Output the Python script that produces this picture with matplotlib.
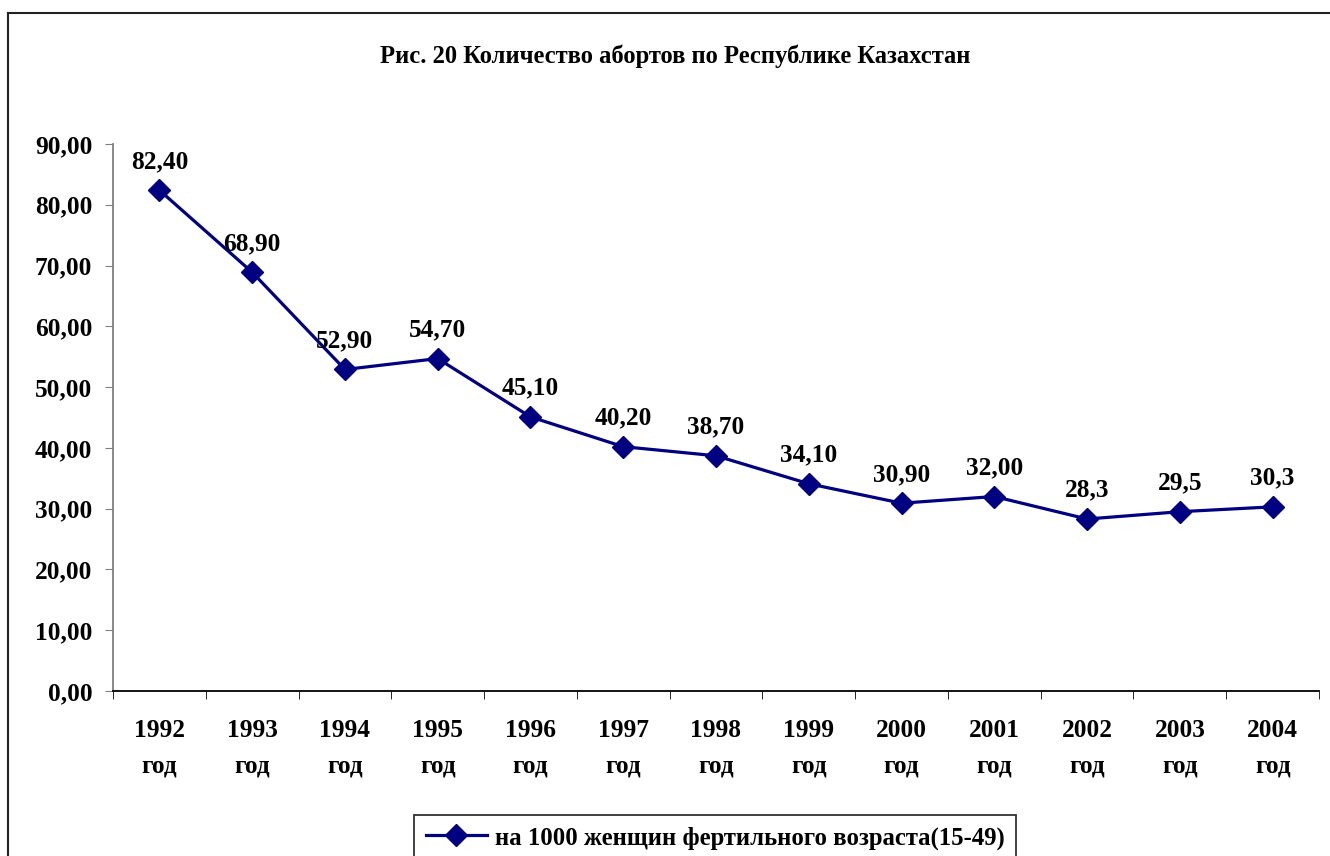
import matplotlib.pyplot as plt
from matplotlib.lines import Line2D

years = ['1992', '1993', '1994', '1995', '1996', '1997', '1998',
         '1999', '2000', '2001', '2002', '2003', '2004']
values = [82.4, 68.9, 52.9, 54.7, 45.1, 40.2, 38.7, 34.1, 30.9, 32.0, 28.3, 29.5, 30.3]
labels = ['82,40', '68,90', '52,90', '54,70', '45,10', '40,20', '38,70',
          '34,10', '30,90', '32,00', '28,3', '29,5', '30,3']
yticks = [0, 10, 20, 30, 40, 50, 60, 70, 80, 90]
series_name = 'на 1000 женщин фертильного возраста(15-49)'

plt.rcParams['font.family'] = ['Liberation Serif', 'DejaVu Serif']
plt.rcParams['font.weight'] = 'bold'
fs = 18.3

fig = plt.figure(figsize=(13.3, 8.56), dpi=100)
ax = fig.add_axes([113/1330, 1-691/856, (1319-113)/1330, (691-144)/856])

x = list(range(len(years)))
ax.plot(x, values, color='#000080', lw=2.3, marker='D', ms=11.5, mfc='#000080', mec='#000080')
for xi, v, lab in zip(x, values, labels):
    ax.annotate(lab, (xi, v), xytext=(0, 12.5), textcoords='offset points',
                ha='center', va='bottom', fontsize=fs, fontweight='bold')

ax.set_xlim(-0.5, len(years) - 0.5)
ax.set_ylim(0, 90)
ax.set_yticks(yticks)
ax.set_yticklabels(['%d,00' % t for t in yticks], fontsize=fs, fontweight='bold')
ax.set_xticks(x)
ax.set_xticklabels([y + '\nгод' for y in years], fontsize=fs, fontweight='bold', linespacing=1.7)
ax.tick_params(axis='x', length=0, pad=20)
ax.set_xticks([i - 0.5 for i in range(len(years) + 1)], minor=True)
ax.tick_params(axis='x', which='minor', length=6, color='black', direction='out')
ax.tick_params(axis='y', length=6, color='#808080', pad=9)
ax.spines['top'].set_visible(False)
ax.spines['right'].set_visible(False)
ax.spines['left'].set_color('#808080')
ax.spines['left'].set_linewidth(1.3)
ax.spines['bottom'].set_color('black')
ax.spines['bottom'].set_linewidth(1.3)

fig.text(675/1330, 1-56/856, 'Рис. 20 Количество абортов по Республике Казахстан',
         ha='center', va='center', fontsize=17.7, fontweight='bold')

handle = Line2D([], [], color='#000080', lw=2.3, marker='D', ms=11.5)
leg = fig.legend([handle], [series_name], loc='upper center',
                 bbox_to_anchor=(715/1330, 1-815/856), fontsize=17.8,
                 frameon=True, fancybox=False, edgecolor='black', handlelength=2.5,
                 borderpad=0.45, handletextpad=0.3, borderaxespad=0)
leg.get_frame().set_linewidth(1.3)

# outer chart frame
fig.add_artist(Line2D([8/1330, 1], [1-13/856, 1-13/856], transform=fig.transFigure, color='#222222', lw=1.5))
fig.add_artist(Line2D([8/1330, 8/1330], [0, 1-13/856], transform=fig.transFigure, color='#222222', lw=1.5))

fig.savefig('out.png', dpi=100)
